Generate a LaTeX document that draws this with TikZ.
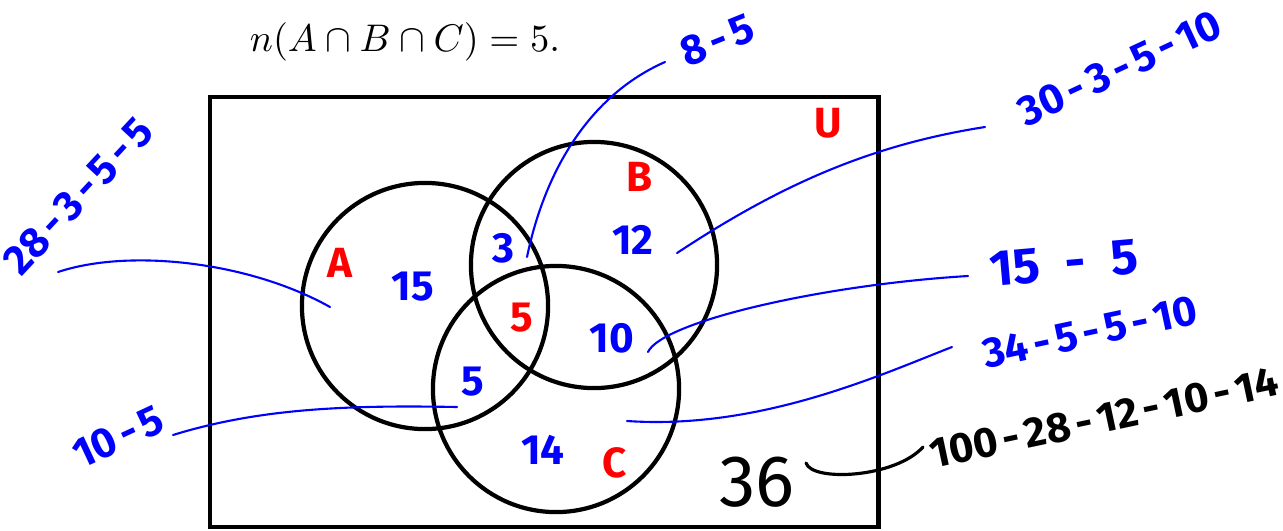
\documentclass[tikz,border=0pt]{standalone}
\usepackage{fontspec}
\newfontfamily\hand{Fira Sans}
\usetikzlibrary{positioning}
\newcommand\hy{\kern1.5pt-\kern1.5pt}

\begin{document}
\begin{tikzpicture}[x=0.01cm, y=-0.01cm,
  every node/.style={font=\hand\large},
  ring/.style={draw, circle, line width=1.2pt, minimum size=2.46cm, inner sep=0pt},
  count/.style={text=blue, font=\hand\large\bfseries},
  setname/.style={text=red, font=\hand\large\bfseries},
  work/.style={text=blue, font=\hand\large\bfseries},
  lead/.style={blue, line width=0.6pt, line cap=round}]
\useasboundingbox (0,0) rectangle (1283,530);

\node[font=\fontsize{11}{13}\selectfont] (given) at (405,42) {$n(A\cap B\cap C)=5.$};

% universe and the three sets
\node[draw, line width=1.3pt, minimum width=6.68cm, minimum height=4.30cm, inner sep=0pt] (U) at (544,312) {};
\node[ring] (A) at (425,306) {};
\node[ring] (B) at (594,265) {};
\node[ring] (C) at (556,389) {};

\foreach \nm/\x/\y/\t in {lA/340/263/A, lB/640/177/B, lC/615/463/C, lU/828/123/U}
  \node[setname] (\nm) at (\x,\y) {\t};

% region counts
\foreach \nm/\x/\y/\v in {onlyA/413/287/15, onlyB/633/240/12, onlyC/543/450/14,
                          AB/503/248/3, BC/612/338/10, AC/473/382/5}
  \node[count] (\nm) at (\x,\y) {\v};
\node[setname] (ABC) at (522,318) {5};
\node[font=\hand\huge] (total) at (757,482) {36};

% working
\node[work, rotate=47] (w28) at (78,196) {28\hy3\hy5\hy5};
\node[work, rotate=22] (w8) at (717,40) {8\hy5};
\node[work, rotate=25] (w30) at (1120,68) {30\hy3\hy5\hy10};
\node[work, font=\hand\Large\bfseries, rotate=5] (w15) at (1064,263) {15\enspace-\enspace5};
\node[work, rotate=12] (w34) at (1090,332) {34\hy5\hy5\hy10};
\node[work, rotate=25] (w10) at (118,437) {10\hy5};
\node[font=\hand\large\bfseries, rotate=12] (w100) at (1104,418) {100\hy28\hy12\hy10\hy14};

% leaders
\coordinate (pA) at (330,307);  \coordinate (e28) at (58,272);
\coordinate (p8) at (527,257);  \coordinate (e8) at (665,62);
\coordinate (p30) at (677,253); \coordinate (e30) at (985,127);
\coordinate (p15) at (648,352); \coordinate (e15) at (968,276);
\coordinate (p34) at (627,421); \coordinate (e34) at (952,347);
\coordinate (p10) at (457,407); \coordinate (e10) at (173,435);
\coordinate (p36) at (806,463); \coordinate (e36) at (923,447);

\draw[lead] (pA) .. controls (250,262) and (130,248) .. (e28);
\draw[lead] (p8) .. controls (545,170) and (590,95) .. (e8);
\draw[lead] (p30) .. controls (780,185) and (870,145) .. (e30);
\draw[lead] (p15) .. controls (662,322) and (820,285) .. (e15);
\draw[lead] (p34) .. controls (760,430) and (880,375) .. (e34);
\draw[lead] (p10) .. controls (350,405) and (260,408) .. (e10);
\draw[line width=0.9pt, line cap=round] (p36) .. controls (812,482) and (895,478) .. (e36);
\end{tikzpicture}
\end{document}
